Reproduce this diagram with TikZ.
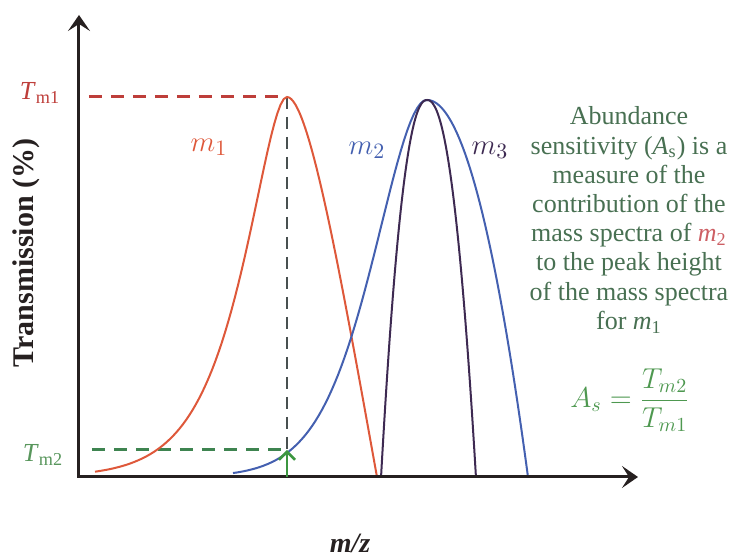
\documentclass[tikz,border=0pt]{standalone}
\usepackage{fontspec}
\setmainfont{Liberation Serif}
\usetikzlibrary{arrows.meta}
\definecolor{peakred}{RGB}{222,88,58}
\definecolor{dashred}{RGB}{190,62,58}
\definecolor{peakblue}{RGB}{68,96,176}
\definecolor{peakviolet}{RGB}{62,42,82}
\definecolor{guidegray}{RGB}{72,80,80}
\definecolor{guidegreen}{RGB}{62,132,80}
\definecolor{labelgreen}{RGB}{88,150,92}
\definecolor{arrowgreen}{RGB}{60,150,64}
\definecolor{notegreen}{RGB}{72,112,82}
\definecolor{formgreen}{RGB}{78,152,80}
\definecolor{mpink}{RGB}{205,95,100}
\definecolor{axisgray}{RGB}{38,32,32}
\tikzset{
  axis/.style  = {-{Stealth[length=8pt,width=11pt,inset=3.5pt]}, line width=1.5pt,
                  axisgray, line cap=rect},
  peak/.style  = {line width=1pt, samples=60},
  guide/.style = {line width=1.5pt, dash pattern=on 6.5pt off 4.5pt},
  tlbl/.style  = {inner sep=1pt, font=\fontsize{13}{14}\selectfont},
  mlbl/.style  = {inner sep=1pt, font=\fontsize{15}{16}\selectfont},
  note/.style  = {align=center, inner sep=0pt, text=notegreen,
                  font=\fontsize{13}{14.6}\selectfont},
}

\begin{document}
\begin{tikzpicture}[x=0.5pt,y=0.5pt]
  \useasboundingbox (-79,-83) rectangle (650,477);
  % frame points
  \coordinate (o) at (0,0);
  \coordinate (ytip) at (0,462);
  \coordinate (xtip) at (559,0);
  \coordinate (top1) at (208,380);
  \coordinate (r0) at (10,380);
  \coordinate (hit2) at (208,27);
  \coordinate (g0) at (13,27);
  \coordinate (foot) at (208,0);

  % guide lines
  \draw[guide,dashred] (r0) -- (top1);
  \draw[guide,guidegreen] (g0) -- (hit2);
  \draw[line width=1pt,guidegray,dash pattern=on 6pt off 4pt] (top1) -- (hit2);

  % peaks (u = distance from the peak / 100)
  \draw[peak,peakred] plot[domain=16:208]
      (\x,{380*exp(-5.698*((208-\x)/100)^2/(1+2.041*(208-\x)/100))})
      .. controls (230,380) and (262,200) .. (298,0);
  \draw[peak,peakblue] plot[domain=154:348]
      (\x,{377*exp(-2.385*((348-\x)/100)^2/(1+0.5*(348-\x)/100))})
      -- plot[domain=348:449] (\x,{377*(1-((\x-348)/101)^2)});
  \draw[peak,peakviolet] plot[domain=302:348] (\x,{377*(1-((348-\x)/46+0.001)^2.2)})
      -- plot[domain=348:397] (\x,{377*(1-((\x-348)/49+0.001)^2.2)});

  % axes
  \draw[axis] (o) -- (ytip);
  \draw[axis] (o) -- (xtip);
  \draw[-{Straight Barb[length=4pt,width=8pt]},line width=1.3pt,arrowgreen] (foot) -- (hit2);

  % labels
  \node[tlbl,text=dashred] (tm1) at (-39,384) {\textit{T}\textsubscript{m1}};
  \node[tlbl,text=labelgreen] (tm2) at (-36,22) {\textit{T}\textsubscript{m2}};
  \node[mlbl,text=peakred] (m1) at (130,330) {$m_1$};
  \node[mlbl,text=peakblue] (m2) at (288,327) {$m_2$};
  \node[mlbl,text=peakviolet] (m3) at (411,327) {$m_3$};
  \node[rotate=90,font=\fontsize{15}{16}\selectfont\bfseries,text=axisgray]
      (ylab) at (-53,224) {Transmission (\%)};
  \node[font=\fontsize{14}{15}\selectfont\bfseries\itshape,text=axisgray]
      (xlab) at (271,-66) {m/z};
  \node[note] (abund) at (550,257) {Abundance\\ sensitivity (\textit{A}\textsubscript{s}) is a\\
      measure of the\\ contribution of the\\
      mass spectra of {\color{mpink}\textit{m}\textsubscript{2}}\\
      to the peak height\\ of the mass spectra\\ for \textit{m}\textsubscript{1}};
  \node[text=formgreen,font=\fontsize{14.5}{16}\selectfont] (ratio) at (551,77)
      {$\displaystyle A_s=\frac{T_{m2}}{T_{m1}}$};
\end{tikzpicture}
\end{document}
